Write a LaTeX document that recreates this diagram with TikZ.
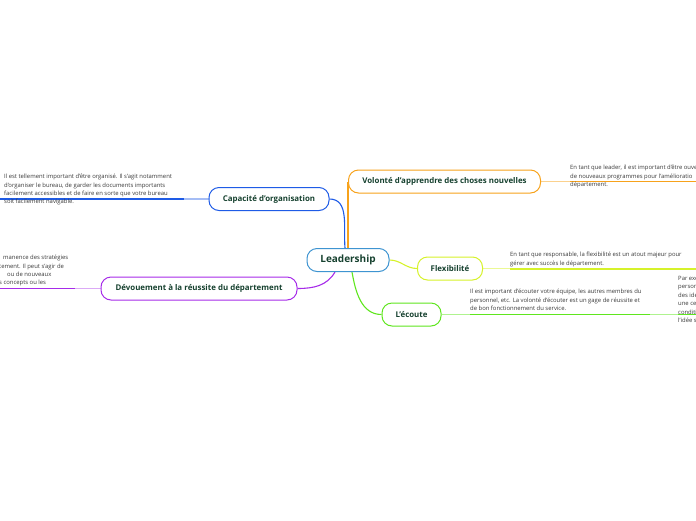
\documentclass[tikz,border=0pt]{standalone}
\usepackage{fontspec}
\setmainfont{Open Sans}
\definecolor{leadblue}{HTML}{3E94D1}
\definecolor{orgblue}{HTML}{1E5BE6}
\definecolor{volorange}{HTML}{F7A21B}
\definecolor{flexgreen}{HTML}{D6F22A}
\definecolor{ecgreen}{HTML}{5FE61E}
\definecolor{devpurple}{HTML}{A62BE9}
\definecolor{topictext}{HTML}{16412F}
\definecolor{leaftext}{HTML}{3A3A3A}
\pgfdeclarelayer{bg}
\pgfsetlayers{bg,main}
\begin{document}
\begin{tikzpicture}[x=1pt,y=-1pt,
 topic/.style={draw, rounded corners=10pt, line width=1pt, fill=white, minimum height=23pt, inner sep=0pt, text=topictext, font=\bfseries\fontsize{7.9}{9}\selectfont},
 leaf/.style={anchor=north west, align=left, inner sep=0pt, text=leaftext, font=\fontsize{5.9}{8.4}\selectfont},
 leafline/.style={anchor=base west, inner sep=0pt, text=leaftext, font=\fontsize{5.9}{8.4}\selectfont},
 link/.style={line width=1.1pt},
 uline/.style={line width=1.3pt}]
\useasboundingbox (0,0) rectangle (696,520);
\clip (0,0) rectangle (696,520);
\node[topic, draw=leadblue, minimum width=82pt, font=\bfseries\fontsize{10}{11}\selectfont](lead) at (348,260) {Leadership};
\node[topic, draw=orgblue, minimum width=120pt](org) at (269,199) {Capacité d'organisation};
\node[topic, draw=volorange, minimum width=192pt](vol) at (444.5,181.5) {Volonté d'apprendre des choses nouvelles};
\node[topic, draw=flexgreen, minimum width=65pt](flex) at (450,268.5) {Flexibilité};
\node[topic, draw=ecgreen, minimum width=59pt](ec) at (411.5,314.5) {L'écoute};
\node[topic, draw=devpurple, minimum width=196pt](dev) at (199,288.5) {Dévouement à la réussite du département};
\node[leaf](orgtxt) at (4,174) {Il est tellement important d'être organisé. Il s'agit notamment\\d'organiser le bureau, de garder les documents importants\\facilement accessibles et de faire en sorte que votre bureau\\soit facilement navigable.};
\node[leaf](voltxt) at (570,165) {En tant que leader, il est important d'être ouve\\de nouveaux programmes pour l'amélioratio\\département.};
\node[leaf](flextxt) at (510,252) {En tant que responsable, la flexibilité est un atout majeur pour\\gérer avec succès le département.};
\node[leaf](ectxt) at (470,289) {Il est important d'écouter votre équipe, les autres membres du\\personnel, etc. La volonté d'écouter est un gage de réussite et\\de bon fonctionnement du service.};
\node[leaf](extxt) at (678,276) {Par exe\\person\\des idé\\une ce\\conditi\\l'idée s};
\node[leafline](dev1) at (3,259.8) {manence des stratégies}; \node[leafline](dev2) at (-1,268.1) {tement. Il peut s'agir de};
\node[leafline](dev3) at (7,276.4) {ou de nouveaux}; \node[leafline](dev4) at (-1,284.7) {s concepts ou les};
\coordinate (orgmid) at (184,199); \coordinate (orgend) at (0,199);
\coordinate (volmid) at (570,181.5); \coordinate (volend) at (696,181.5);
\coordinate (flexmid) at (510,268.5); \coordinate (flexend) at (696,268.5);
\coordinate (ecmid) at (470,314.5); \coordinate (ecend) at (650,314.5);
\coordinate (exmid) at (678,314.5); \coordinate (exend) at (696,314.5);
\coordinate (devmid) at (75,288.5); \coordinate (devend) at (0,288.5);
\begin{pgfonlayer}{bg}
\draw[link, orgblue] ([xshift=-3pt]lead.north) to[out=95,in=0] (org.east);
\draw[link, volorange] (lead.north) -- (vol.west);
\draw[link, flexgreen] (lead.east) to[out=0,in=180] (flex.west);
\draw[link, ecgreen] ([xshift=4pt]lead.south) to[out=-80,in=180] (ec.west);
\draw[link, devpurple] ([xshift=-13pt]lead.south) to[out=-120,in=0] (dev.east);
\draw[link, orgblue!40] (org.west) -- (orgmid); \draw[uline, orgblue] (orgmid) -- (orgend);
\draw[link, volorange!50] (vol.east) -- (volmid); \draw[uline, volorange] (volmid) -- (volend);
\draw[link, flexgreen!50] (flex.east) -- (flexmid); \draw[uline, flexgreen, line width=2pt] (flexmid) -- (flexend);
\draw[link, ecgreen!50] (ec.east) -- (ecmid); \draw[uline, ecgreen] (ecmid) -- (ecend);
\draw[link, ecgreen!50] (ecend) -- (exmid); \draw[uline, ecgreen] (exmid) -- (exend);
\draw[link, devpurple!40] (dev.west) -- (devmid); \draw[uline, devpurple] (devmid) -- (devend);
\end{pgfonlayer}
\end{tikzpicture}
\end{document}
